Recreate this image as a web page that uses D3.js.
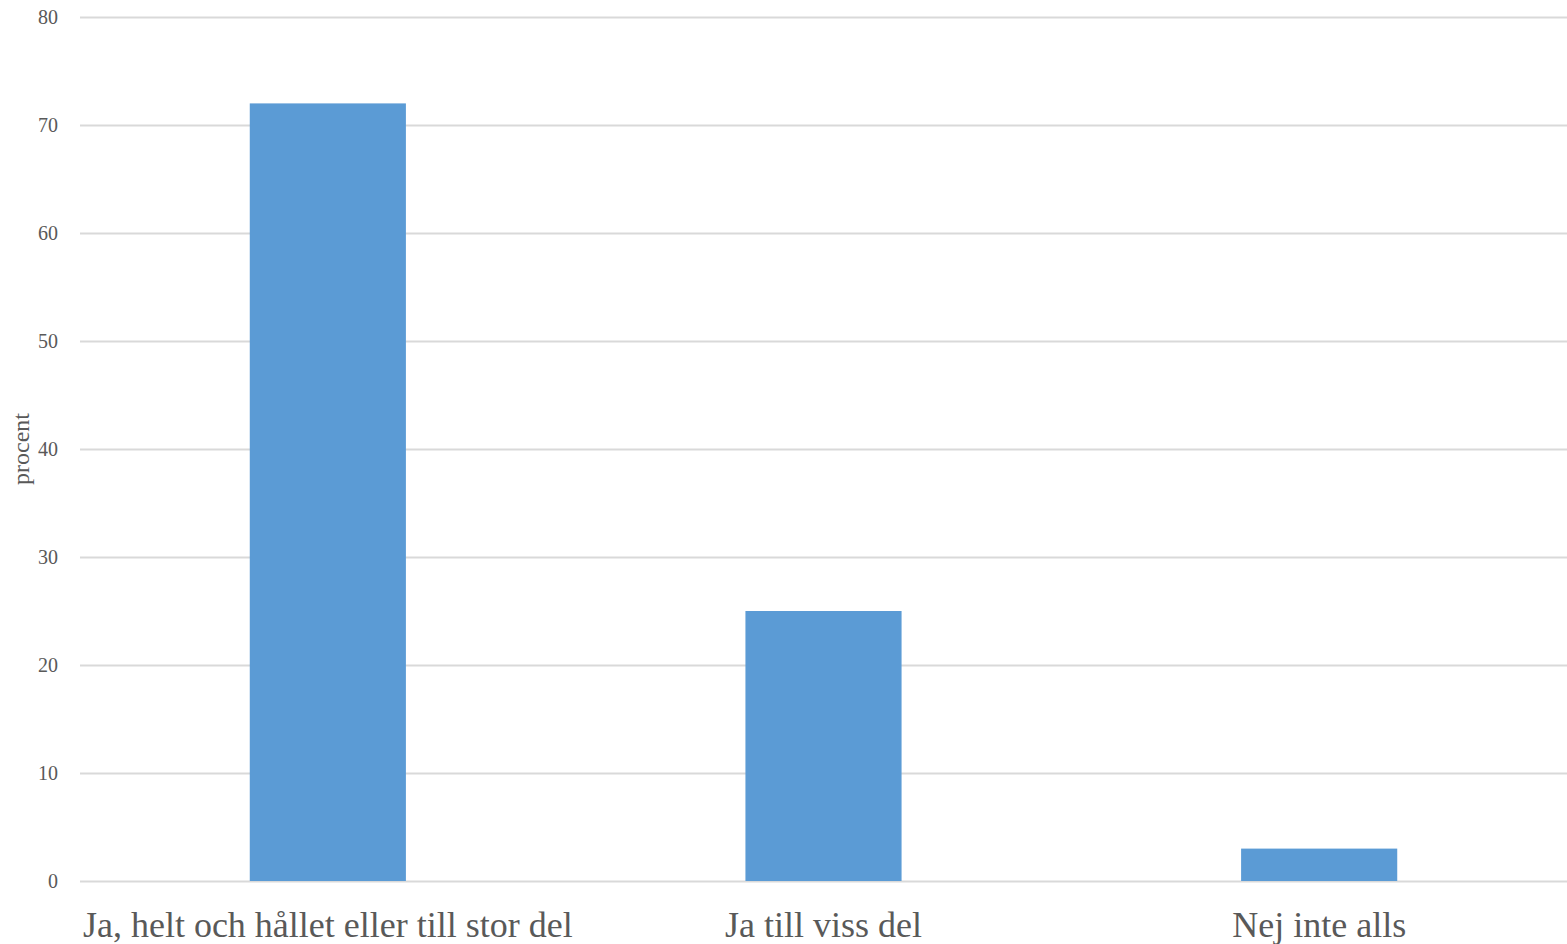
<!DOCTYPE html>
<html><head><meta charset="utf-8">
<script src="https://cdn.jsdelivr.net/npm/d3@7"></script>
<style>body{margin:0;background:#fff}svg{display:block}</style>
</head><body>
<svg id="c" width="1567" height="944"></svg>
<script>
const categories = ["Ja, helt och hållet eller till stor del", "Ja till viss del", "Nej inte alls"];
const values = [72, 25, 3];
const yTicks = [0, 10, 20, 30, 40, 50, 60, 70, 80];
const yTitle = "procent";

const svg = d3.select("#c");
const m = {left: 80, right: 0, top: 17, bottom: 63};
const W = 1567, H = 944;
const x = d3.scaleBand().domain(categories).range([m.left, W - m.right]).paddingInner(0.685).paddingOuter(0.3425);
const y = d3.scaleLinear().domain([0, 80]).range([H - m.bottom, m.top]);
const font = "'Liberation Serif', serif";

const yAxis = svg.append("g").attr("transform", `translate(${m.left},0)`)
  .call(d3.axisLeft(y).tickValues(yTicks).tickSize(-(W - m.left - m.right)).tickPadding(22));
yAxis.select(".domain").remove();
yAxis.selectAll(".tick line").attr("stroke", "#d9d9d9").attr("stroke-width", 2);
yAxis.selectAll(".tick text").attr("fill", "#595959").style("font-family", font).style("font-size", "20px");

svg.append("g").selectAll("rect").data(values).join("rect")
  .attr("x", (d, i) => x(categories[i]))
  .attr("width", x.bandwidth())
  .attr("y", d => y(d))
  .attr("height", d => y(0) - y(d))
  .attr("fill", "#5b9bd5");

const xAxis = svg.append("g").attr("transform", `translate(0,${y(0)})`)
  .call(d3.axisBottom(x).tickSize(0).tickPadding(30));
xAxis.select(".domain").remove();
xAxis.selectAll(".tick text").attr("fill", "#595959").style("font-family", font).style("font-size", "36px");

svg.append("text").attr("transform", `translate(29,${(y(0) + y(80)) / 2}) rotate(-90)`)
  .attr("text-anchor", "middle").attr("fill", "#595959")
  .style("font-family", font).style("font-size", "24px").text(yTitle);
</script>
</body></html>
